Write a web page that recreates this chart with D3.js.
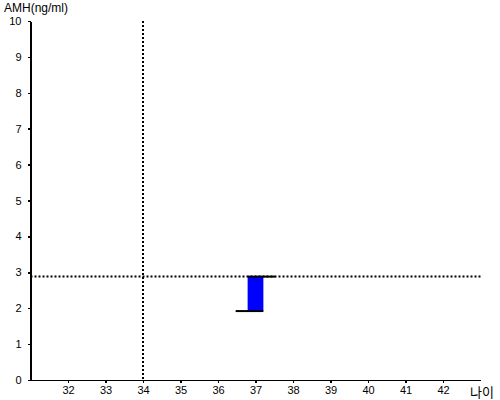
<!DOCTYPE html>
<html>
<head>
<meta charset="utf-8">
<script src="https://cdn.jsdelivr.net/npm/d3@7"></script>
<style>
  body { margin: 0; background: #fff; }
  svg { display: block; font-family: Arial, "Liberation Sans", sans-serif; }
  .axis text { font-size: 11px; fill: #000; }
  .axis path, .axis line { stroke: #000; stroke-width: 1.5px; shape-rendering: crispEdges; }
</style>
</head>
<body>
<svg id="chart"></svg>
<script>
const W = 500;
const H = 400;

// data
const ages = [37];
const amhHigh = [2.88];
const amhLow = [1.92];
const refAge = 34;
const refAmh = 2.88;
const xTicks = [32, 33, 34, 35, 36, 37, 38, 39, 40, 41, 42];
const yTicks = [0, 1, 2, 3, 4, 5, 6, 7, 8, 9, 10];

const x = d3.scaleLinear().domain([31, 43]).range([30.5, 480.5]);
const y = d3.scaleLinear().domain([0, 10]).range([380, 21]);

const svg = d3.select('#chart').attr('width', W).attr('height', H);

// axes
svg.append('g')
  .attr('class', 'axis')
  .attr('transform', `translate(${x.range()[0]},0)`)
  .call(d3.axisLeft(y).tickValues(yTicks).tickSize(3).tickPadding(6).tickSizeOuter(0));

svg.append('g')
  .attr('class', 'axis')
  .attr('transform', `translate(0,${y(0)})`)
  .call(d3.axisBottom(x).tickValues(xTicks).tickSize(3).tickPadding(3).tickSizeOuter(0));

// reference lines
svg.append('line')
  .attr('x1', x(refAge)).attr('x2', x(refAge))
  .attr('y1', y(10)).attr('y2', y(0))
  .attr('stroke', '#000').attr('stroke-width', 2).attr('stroke-dasharray', '2,2');

svg.append('line')
  .attr('x1', x.range()[0]).attr('x2', x.range()[1])
  .attr('y1', y(refAmh)).attr('y2', y(refAmh))
  .attr('stroke', '#000').attr('stroke-width', 2).attr('stroke-dasharray', '2,2');

// bars
const barW = 0.42;
const tail = 0.32;
const data = ages.map((a, i) => ({ age: a, hi: amhHigh[i], lo: amhLow[i] }));

const g = svg.append('g').selectAll('g').data(data).join('g');

g.append('rect')
  .attr('x', d => x(d.age - barW / 2))
  .attr('width', d => x(d.age + barW / 2) - x(d.age - barW / 2))
  .attr('y', d => y(d.hi))
  .attr('height', d => y(d.lo) - y(d.hi))
  .attr('fill', '#0000ff');

g.append('line')
  .attr('x1', d => x(d.age - barW / 2)).attr('x2', d => x(d.age + barW / 2 + tail))
  .attr('y1', d => y(d.hi)).attr('y2', d => y(d.hi))
  .attr('stroke', '#000').attr('stroke-width', 2);

g.append('line')
  .attr('x1', d => x(d.age - barW / 2 - tail)).attr('x2', d => x(d.age + barW / 2))
  .attr('y1', d => y(d.lo)).attr('y2', d => y(d.lo))
  .attr('stroke', '#000').attr('stroke-width', 2);

// titles
svg.append('text')
  .attr('x', 4).attr('y', 12)
  .style('font-size', '12px')
  .text('AMH(ng/ml)');

svg.append('text')
  .attr('x', 470).attr('y', 397)
  .style('font-family', '"Noto Sans CJK KR", sans-serif')
  .style('font-size', '13px')
  .text('나이');
</script>
</body>
</html>
